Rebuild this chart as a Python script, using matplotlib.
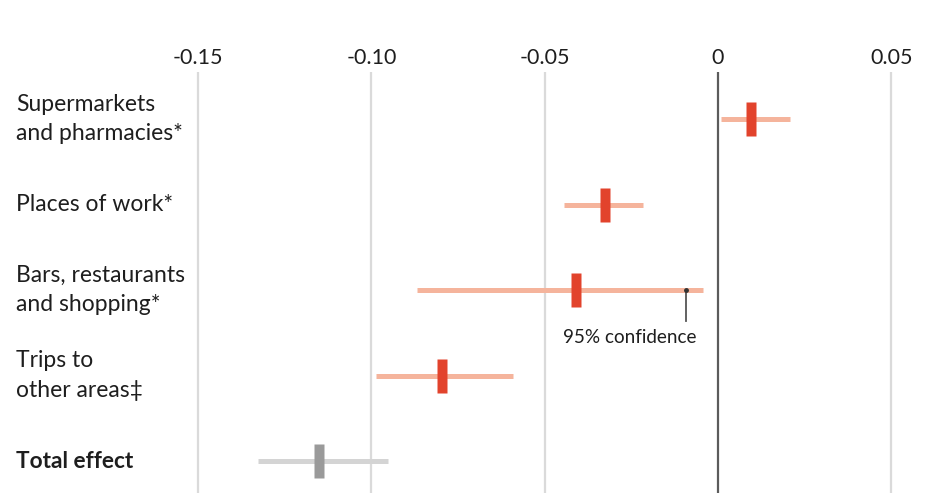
import matplotlib
matplotlib.use("Agg")
import matplotlib.pyplot as plt

plt.rcParams['font.family'] = ['Lato', 'DejaVu Sans']

# Estimated effect of each mobility category, with 95% confidence bounds
categories = [
    "Supermarkets\nand pharmacies*",
    "Places of work*",
    "Bars, restaurants\nand shopping*",
    "Trips to\nother areas\u2021",
    "Total effect",
]
estimates = [0.0095, -0.0326, -0.0410, -0.0796, -0.1151]
ci_low = [0.0010, -0.0444, -0.0868, -0.0987, -0.1327]
ci_high = [0.0208, -0.0216, -0.0043, -0.0592, -0.0952]
tick_values = [-0.15, -0.10, -0.05, 0, 0.05]
tick_labels = ["-0.15", "-0.10", "-0.05", "0", "0.05"]

W, H = 931, 493
fig = plt.figure(figsize=(W / 100, H / 100), dpi=100)
ax = fig.add_axes([0, 0, 1, 1 - 72 / H])
ax.set_xlim(-0.2072, 0.0615)
ax.set_ylim(4.374, -0.55)

for s in ax.spines.values():
    s.set_visible(False)
ax.set_yticks([])
ax.xaxis.tick_top()
ax.set_xticks(tick_values)
ax.set_xticklabels(tick_labels)
ax.tick_params(axis='x', length=0, pad=3, labelsize=15.5, labelcolor='#1e1e1e')

# vertical grid lines; zero line is darker
for v in tick_values:
    if v == 0:
        ax.axvline(v, color='#5c5c5c', lw=1.6, zorder=1)
    else:
        ax.axvline(v, color='#dadada', lw=1.6, zorder=1)

rows = list(range(len(categories)))
line_colors = ['#f5b49c'] * 4 + ['#d4d4d4']
mark_colors = ['#e2432c'] * 4 + ['#9a9a9a']

# tall thin rectangle marker for point estimates
rect = [(-0.15, -0.5), (0.15, -0.5), (0.15, 0.5), (-0.15, 0.5), (-0.15, -0.5)]

for r, lo, hi, est, lc, mc in zip(rows, ci_low, ci_high, estimates, line_colors, mark_colors):
    ax.hlines(r, lo, hi, color=lc, lw=3.6, zorder=2)
    ax.plot([est], [r], linestyle='none', marker=rect, markersize=24.5,
            markerfacecolor=mc, markeredgecolor='none', zorder=3)

# category labels at the left edge of the figure
for r, name in zip(rows, categories):
    bold = name == "Total effect"
    ax.text(16 / W, r, name, transform=ax.get_yaxis_transform(),
            ha='left', va='center', fontsize=16.3 if bold else 16.5,
            color='#1e1e1e', linespacing=1.5,
            fontweight='bold' if bold else 'normal')

# annotation pointing at the upper confidence bound
ann_row = 2
ann_x = ci_high[ann_row] - 0.005
ax.plot([ann_x, ann_x], [ann_row, ann_row + 0.36], color='#555555', lw=1.3, zorder=4)
ax.plot([ann_x], [ann_row], marker='o', markersize=2.5, color='#333333', zorder=4)
ax.text(-0.0254, ann_row + 0.55, "95% confidence", ha='center', va='center',
        fontsize=13.6, color='#1e1e1e')

fig.savefig("out.png", dpi=100)
